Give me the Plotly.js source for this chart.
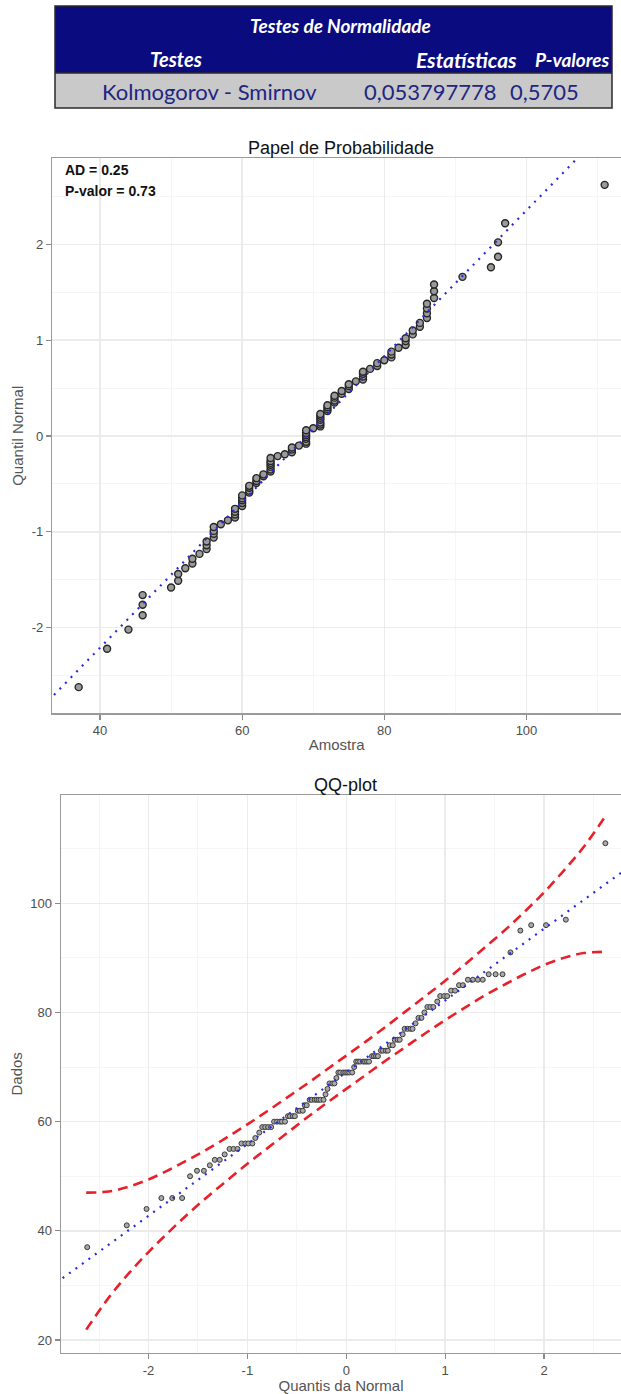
<!DOCTYPE html>
<html><head><meta charset="utf-8">
<script src="https://cdn.plot.ly/plotly-3.0.1.min.js"></script>
<style>html,body{margin:0;padding:0;background:#fff;}#chart{width:621px;height:1394px;}</style>
</head><body><div id="chart"></div>
<script>
// ---------- data ----------
const tableTitle = "Testes de Normalidade";
const tableHeaders = ["Testes", "Estatísticas", "P-valores"];
const tableValues = ["Kolmogorov - Smirnov", "0,053797778", "0,5705"];
const adLines = ["AD = 0.25", "P-valor = 0.73"];

const amostra = [37,41,44,46,46,46,50,51,51,52,
  53,53,54,55,55,55,56,56,56,56,
  57,58,59,59,59,59,60,60,60,60,
  60,61,61,61,61,62,62,62,63,63,
  64,64,64,64,64,64,64,65,66,67,
  67,67,68,69,69,69,69,69,69,69,
  70,71,71,71,71,71,71,71,72,72,
  72,72,73,73,73,73,74,74,75,75,
  75,76,77,77,77,77,78,79,79,80,
  81,81,81,82,83,83,83,84,84,85,
  85,86,86,86,86,87,87,87,91,95,
  96,96,97,111];

const quantis = [-2.62,-2.22,-2.02,-1.87,-1.76,-1.66,-1.58,-1.51,-1.44,-1.38,
  -1.33,-1.28,-1.23,-1.18,-1.14,-1.10,-1.06,-1.02,-0.99,-0.95,
  -0.92,-0.88,-0.85,-0.82,-0.79,-0.76,-0.73,-0.70,-0.67,-0.65,
  -0.62,-0.59,-0.57,-0.54,-0.52,-0.49,-0.47,-0.44,-0.42,-0.40,
  -0.37,-0.35,-0.32,-0.30,-0.28,-0.26,-0.23,-0.21,-0.19,-0.17,
  -0.14,-0.12,-0.10,-0.08,-0.06,-0.03,-0.01,
  0.01,0.03,0.06,0.08,0.10,0.12,0.14,0.17,0.19,0.21,
  0.23,0.26,0.28,0.30,0.32,0.35,0.37,0.40,0.42,0.44,
  0.47,0.49,0.52,0.54,0.57,0.59,0.62,0.65,0.67,0.70,
  0.73,0.76,0.79,0.82,0.85,0.88,0.92,0.95,0.99,1.02,
  1.06,1.10,1.14,1.18,1.23,1.28,1.33,1.38,1.44,1.51,
  1.58,1.66,1.76,1.87,2.02,2.22,2.62];

const refQuantis = [-3, 3];
const refValores = [29.6, 108.5];

const bandQuantis  = [-2.63,-2.4,-2.2,-2.0,-1.8,-1.6,-1.4,-1.2,-1.0,-0.8,-0.6,-0.4,-0.2,0,0.2,0.4,0.6,0.8,1.0,1.2,1.4,1.6,1.8,2.0,2.2,2.4,2.63];
const bandSuperior = [47.0,47.2,48.1,49.4,51.1,53.0,55.0,57.2,59.5,61.9,64.4,66.9,69.5,72.1,74.7,77.4,80.2,83.0,85.8,88.8,91.9,95.0,98.4,102.0,106.0,110.3,116.2];
const bandInferior = [21.9,27.8,32.2,36.1,39.7,43.1,46.3,49.3,52.3,55.1,57.9,60.7,63.4,66.0,68.6,71.2,73.7,76.2,78.6,80.9,83.1,85.1,87.0,88.7,90.0,90.9,91.1];

const topXTicks = [40,60,80,100];
const topXLabels = ["40","60","80","100"];
const topYTicks = [-2,-1,0,1,2];
const topYLabels = ["-2","-1","0","1","2"];
const botXTicks = [-2,-1,0,1,2];
const botXLabels = ["-2","-1","0","1","2"];
const botYTicks = [20,40,60,80,100];
const botYLabels = ["20","40","60","80","100"];

// ---------- layout helpers ----------
const W = 621, H = 1394;
const px = x => x / W;
const py = y => 1 - y / H;
const FONT = "Liberation Sans, Arial, sans-serif";
const TFONT = "Lato, Carlito, sans-serif";
const BLUE = "#2a2ae6";
const RED = "#e8202a";

const markerTop = {symbol:"circle", size:7, color:"#9a9a9a", line:{color:"#262626", width:1.4}};
const markerBot = {symbol:"circle", size:5, color:"#a8a8a8", line:{color:"#3a3a3a", width:1}};

const traces = [
  {type:"scatter", mode:"markers", x:amostra, y:quantis, xaxis:"x", yaxis:"y", marker:markerTop, hoverinfo:"skip"},
  {type:"scatter", mode:"lines", x:refValores, y:refQuantis, xaxis:"x", yaxis:"y", line:{color:BLUE, width:2.2, dash:"2px,6px"}, hoverinfo:"skip"},
  {type:"scatter", mode:"markers", x:quantis, y:amostra, xaxis:"x2", yaxis:"y2", marker:markerBot, hoverinfo:"skip"},
  {type:"scatter", mode:"lines", x:refQuantis, y:refValores, xaxis:"x2", yaxis:"y2", line:{color:BLUE, width:2.2, dash:"2px,6px"}, hoverinfo:"skip"},
  {type:"scatter", mode:"lines", x:bandQuantis, y:bandSuperior, xaxis:"x2", yaxis:"y2", line:{color:RED, width:2.6, dash:"10px,6px", shape:"spline"}, hoverinfo:"skip"},
  {type:"scatter", mode:"lines", x:bandQuantis, y:bandInferior, xaxis:"x2", yaxis:"y2", line:{color:RED, width:2.6, dash:"10px,6px", shape:"spline"}, hoverinfo:"skip"}
];

function axisBase(){
  return {
    showline:true, linecolor:"#9a9a9a", linewidth:1.5,
    ticks:"outside", ticklen:5, tickcolor:"#8a8a8a", tickwidth:1.2,
    tickfont:{family:FONT, size:13, color:"#4d4d4d"},
    showgrid:true, gridcolor:"#ebebeb", gridwidth:1.5,
    zeroline:false, tickmode:"array", fixedrange:true
  };
}

const xaxis = Object.assign(axisBase(), {
  domain:[px(52.3), 1], range:[33.29, 113.3], anchor:"y",
  tickvals:topXTicks, ticktext:topXLabels, mirror:true,
  minor:{tickmode:"array", tickvals:[30,50,70,90,110], showgrid:true, gridcolor:"#f5f5f5", gridwidth:1, ticks:""},
  title:{text:"Amostra", font:{family:FONT, size:15, color:"#555"}, standoff:2}
});
const yaxis = Object.assign(axisBase(), {
  domain:[py(713.3), py(158.3)], range:[-2.893, 2.897], anchor:"x",
  tickvals:topYTicks, ticktext:topYLabels,
  minor:{tickmode:"array", tickvals:[-2.5,-1.5,-0.5,0.5,1.5,2.5], showgrid:true, gridcolor:"#f5f5f5", gridwidth:1, ticks:""},
  title:{text:"Quantil Normal", font:{family:FONT, size:15, color:"#555"}, standoff:4}
});
const xaxis2 = Object.assign(axisBase(), {
  domain:[px(61), 1], range:[-2.885, 2.778], anchor:"y2",
  tickvals:botXTicks, ticktext:botXLabels, mirror:true,
  minor:{tickmode:"array", tickvals:[-2.5,-1.5,-0.5,0.5,1.5,2.5], showgrid:true, gridcolor:"#f5f5f5", gridwidth:1, ticks:""},
  title:{text:"Quantis da Normal", font:{family:FONT, size:15, color:"#555"}, standoff:2}
});
const yaxis2 = Object.assign(axisBase(), {
  domain:[py(1352.7), py(795)], range:[17.67, 119.84], anchor:"x2",
  tickvals:botYTicks, ticktext:botYLabels,
  minor:{tickmode:"array", tickvals:[30,50,70,90,110], showgrid:true, gridcolor:"#f5f5f5", gridwidth:1, ticks:""},
  title:{text:"Dados", font:{family:FONT, size:15, color:"#555"}, standoff:4}
});

// table shapes
const shapes = [
  {type:"rect", xref:"paper", yref:"paper", x0:px(55), x1:px(612), y0:py(73), y1:py(6), fillcolor:"#0b0b80", line:{width:0}, layer:"above"},
  {type:"rect", xref:"paper", yref:"paper", x0:px(55), x1:px(612), y0:py(108), y1:py(73), fillcolor:"#c9c9c9", line:{width:0}, layer:"above"},
  {type:"line", xref:"paper", yref:"paper", x0:px(55), x1:px(612), y0:py(73), y1:py(73), line:{color:"#2a2a2a", width:1.5}, layer:"above"},
  {type:"rect", xref:"paper", yref:"paper", x0:px(55), x1:px(612), y0:py(108), y1:py(6), line:{color:"#2a2a2a", width:1.5}, layer:"above"}
];

const headerX = [176, 466, 572];
const headerSize = [20, 21, 19];
const valueX = [209, 430, 544];
const annotations = [];
annotations.push({xref:"paper", yref:"paper", x:px(340), y:py(25), xanchor:"center", yanchor:"middle", showarrow:false,
  text:"<b><i>"+tableTitle+"</i></b>", font:{family:TFONT, size:19, color:"#ffffff"}});
tableHeaders.forEach((t,i)=>annotations.push({xref:"paper", yref:"paper", x:px(headerX[i]), y:py(59), xanchor:"center", yanchor:"middle", showarrow:false,
  text:"<b><i>"+t+"</i></b>", font:{family:TFONT, size:headerSize[i], color:"#ffffff"}}));
tableValues.forEach((t,i)=>annotations.push({xref:"paper", yref:"paper", x:px(valueX[i]), y:py(91), xanchor:"center", yanchor:"middle", showarrow:false,
  text:t, font:{family:TFONT, size:22, color:"#1e2683"}}));
adLines.forEach((t,i)=>annotations.push({xref:"paper", yref:"paper", x:px(63), y:py(170+21*i), xanchor:"left", yanchor:"middle", showarrow:false,
  text:"<b>"+t+"</b>", font:{family:FONT, size:14, color:"#111"}}));
annotations.push({xref:"paper", yref:"paper", x:px(345), y:py(785), xanchor:"center", yanchor:"middle", showarrow:false,
  text:"QQ-plot", font:{family:FONT, size:18, color:"#111"}});

const layout = {
  width:W, height:H, margin:{l:0, r:0, t:0, b:0, pad:0},
  paper_bgcolor:"#ffffff", plot_bgcolor:"#ffffff", showlegend:false,
  title:{text:"Papel de Probabilidade", x:px(341), xanchor:"center", xref:"paper", y:py(148), yanchor:"middle", yref:"paper",
    font:{family:FONT, size:18, color:"#111"}},
  xaxis, yaxis, xaxis2, yaxis2, shapes, annotations
};

Plotly.newPlot("chart", traces, layout, {staticPlot:true, displayModeBar:false});
</script></body></html>
